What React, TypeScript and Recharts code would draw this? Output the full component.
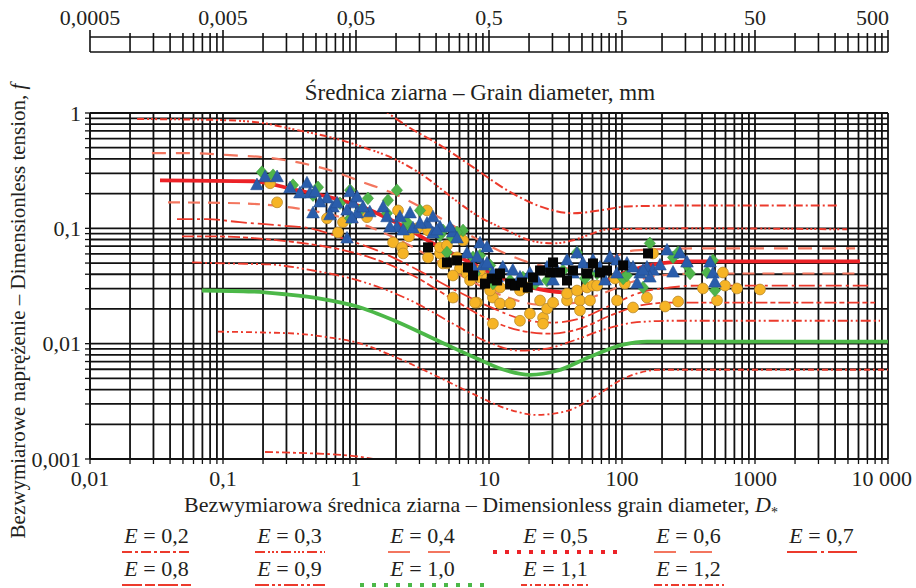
import React from 'react';
import { ComposedChart, LineChart, Line, Scatter, XAxis, YAxis, CartesianGrid, Legend } from 'recharts';

const SERIF = "'Liberation Serif', 'Times New Roman', serif";
const INK = '#231f20';
const GRID = '#111111';
const RED = '#ec3a2c';
const SALMON = '#f3765f';
const GREEN = '#4cb848';

// axis decades, minor ticks are 2..9 times each decade
const D_DECADES = [0.01, 0.1, 1, 10, 100, 1000, 10000];
const F_DECADES = [0.001, 0.01, 0.1, 1];
const MM_DECADES = [0.0005, 0.005, 0.05, 0.5, 5, 50, 500];
const STEPS = [1, 2, 3, 4, 5, 6, 7, 8, 9];

// curves: [D*, f]
const E_02 = [[1.55, 1.1], [2.55, 0.741], [4.28, 0.527], [7.58, 0.339], [13.7, 0.214], [24.2, 0.155], [42.8, 0.135], [68.3, 0.143], [109, 0.155], [386, 0.158], [4140, 0.158]];
const E_03 = [[0.0226, 0.887], [0.0949, 0.869], [0.2, 0.818], [0.36, 0.711], [0.638, 0.618], [1.13, 0.506], [2.03, 0.39], [3.6, 0.261], [4.28, 0.223], [8.56, 0.125], [13.7, 0.096], [20.3, 0.0787], [30.3, 0.0741], [42.8, 0.0787], [60.5, 0.0905], [77.1, 0.098], [386, 0.1], [4920, 0.098]];
const E_04 = [[0.0292, 0.449], [0.0565, 0.449], [0.113, 0.431], [0.2, 0.414], [0.36, 0.375], [0.638, 0.319], [1.13, 0.251], [1.9, 0.201], [3.6, 0.138], [7.2, 0.0869], [14.4, 0.0582], [26.4, 0.0468], [44.4, 0.0449], [74.5, 0.0527], [125, 0.0644], [386, 0.067], [5650, 0.067]];
const E_05 = [[0.0336, 0.261], [0.168, 0.256], [0.36, 0.214], [0.638, 0.186], [1.13, 0.152], [2.14, 0.108], [3.79, 0.0741], [7.2, 0.0506], [13.2, 0.036], [24.2, 0.0295], [40.6, 0.0277], [68.3, 0.0332], [115, 0.0431], [193, 0.0496], [325, 0.0516], [6150, 0.0516]];
const E_06 = [[0.0386, 0.168], [0.134, 0.165], [0.238, 0.158], [0.36, 0.149], [0.638, 0.132], [1.13, 0.108], [2.14, 0.0787], [3.79, 0.0548], [7.2, 0.0353], [13.2, 0.0256], [24.2, 0.0218], [40.6, 0.0223], [68.3, 0.0267], [115, 0.0339], [193, 0.039], [386, 0.0406], [5950, 0.0406]];
const E_07 = [[0.0451, 0.12], [0.0759, 0.12], [0.134, 0.113], [0.268, 0.106], [0.451, 0.1], [0.798, 0.0818], [1.44, 0.0644], [2.68, 0.0458], [5.09, 0.0307], [9.66, 0.0214], [17.1, 0.0165], [28.8, 0.0152], [48.3, 0.0165], [81.3, 0.0214], [137, 0.0277], [230, 0.0307], [386, 0.0319], [7080, 0.0319]];
const E_08 = [[0.0492, 0.0851], [0.0901, 0.0851], [0.18, 0.0818], [0.36, 0.0755], [0.638, 0.0684], [1.27, 0.056], [2.68, 0.039], [5.09, 0.0251], [9.66, 0.0165], [17.1, 0.013], [28.8, 0.0122], [48.3, 0.0135], [81.3, 0.0175], [137, 0.0214], [230, 0.0227], [7980, 0.0227]];
const E_09 = [[0.0585, 0.0506], [0.113, 0.0496], [0.226, 0.0486], [0.475, 0.0431], [0.856, 0.0375], [1.51, 0.0307], [2.78, 0.0227], [5.36, 0.0149], [9.66, 0.0104], [17.1, 0.00869], [27.3, 0.00906], [42.8, 0.0106], [77.1, 0.0135], [121, 0.0152], [230, 0.0158], [8710, 0.0158]];
const E_10 = [[0.0695, 0.0289], [0.168, 0.0283], [0.303, 0.0267], [0.536, 0.0246], [1.02, 0.021], [2.03, 0.0155], [4.28, 0.0104], [7.58, 0.0077], [13.7, 0.00582], [20.3, 0.00537], [32.5, 0.00582], [57.5, 0.0077], [102, 0.0098], [154, 0.0104], [10000, 0.0104]];
const E_11 = [[0.0917, 0.0127], [0.2, 0.0125], [0.36, 0.0122], [0.638, 0.0113], [1.02, 0.0102], [2.03, 0.00755], [4.28, 0.00506], [7.58, 0.00367], [13.7, 0.00272], [23, 0.00241], [38.6, 0.00261], [60.5, 0.00339], [102, 0.00496], [193, 0.00594], [10000, 0.00594]];
const E_12 = [[0.207, 0.00115], [0.36, 0.00113], [0.638, 0.0011], [1.34, 0.001], [2.14, 0.00079]];

// measured points: [D*, f]
const YELLOW = [[0.226, 0.246], [0.255, 0.168], [0.605, 0.122], [0.798, 0.113], [0.732, 0.0923], [1.21, 0.125], [2.07, 0.143], [1.9, 0.0755], [2.22, 0.0684], [2.26, 0.0606], [2.88, 0.1], [3.42, 0.143], [3.48, 0.096], [6.05, 0.0905], [6.38, 0.0787], [4.28, 0.0606], [4.83, 0.0496], [6.05, 0.0449], [6.83, 0.0406], [5.36, 0.0251], [10.7, 0.0353], [10.7, 0.0149], [4.28, 0.0684], [3.48, 0.056], [4.83, 0.0711], [5.75, 0.056], [8.56, 0.0375], [4.51, 0.0496], [5.36, 0.039], [7.2, 0.0353], [8.56, 0.0431], [9.66, 0.0367], [10.7, 0.0251], [8.13, 0.0227], [12.1, 0.0223], [14.4, 0.0223], [17.1, 0.0158], [20.3, 0.0182], [25.5, 0.0168], [25.5, 0.0149], [27.3, 0.0201], [30.3, 0.0227], [24.2, 0.0237], [38.6, 0.0237], [48.3, 0.0237], [57.5, 0.0237], [48.3, 0.0194], [38.6, 0.0272], [45.9, 0.0289], [54.6, 0.0307], [60.5, 0.0319], [91.7, 0.0237], [121, 0.0206], [154, 0.0251], [211, 0.021], [264, 0.0232], [88.6, 0.0367], [171, 0.0606], [10.2, 0.0289], [17.1, 0.0289], [19.3, 0.0307], [12.1, 0.0307], [7.85, 0.0227], [64.9, 0.0319], [406, 0.0301], [518, 0.0237], [595, 0.0319], [732, 0.0301], [574, 0.0414], [105, 0.0332], [1090, 0.0295], [2.5, 0.0851]];
const GREENPTS = [[0.196, 0.307], [0.238, 0.289], [0.336, 0.237], [0.475, 0.194], [0.758, 0.165], [1.07, 0.143], [1.23, 0.182], [1.71, 0.135], [3.03, 0.143], [4.28, 0.0869], [6.38, 0.096], [2.55, 0.102], [7.58, 0.056], [0.518, 0.227], [0.902, 0.214], [2.42, 0.113], [0.902, 0.122], [2.03, 0.214], [4.51, 0.096], [5.27, 0.0835], [8.56, 0.0582], [7.85, 0.0406], [10.7, 0.0332], [4.83, 0.0618], [5.75, 0.0923], [10.2, 0.0477], [18, 0.0375], [27.3, 0.0353], [36, 0.0431], [45.9, 0.0618], [64.9, 0.0406], [102, 0.0367], [144, 0.0307], [162, 0.0741], [242, 0.056], [308, 0.0477], [325, 0.0406], [436, 0.0414], [483, 0.0527], [500, 0.029], [264, 0.0618], [109, 0.039], [1.74, 0.175], [14.4, 0.0353], [22.2, 0.0332], [52.7, 0.0367]];
const BLUE = [[0.18, 0.237], [0.207, 0.278], [0.255, 0.278], [0.319, 0.223], [0.428, 0.246], [0.451, 0.201], [0.605, 0.182], [0.671, 0.152], [0.902, 0.206], [0.949, 0.165], [0.856, 0.143], [1.02, 0.135], [1.27, 0.138], [1.6, 0.152], [1.71, 0.125], [2.14, 0.125], [2.55, 0.135], [2.68, 0.1], [0.856, 0.0818], [4.28, 0.102], [5.36, 0.0923], [8.56, 0.0741], [9.01, 0.0477], [10.7, 0.0406], [3.42, 0.11], [3.79, 0.125], [2.03, 0.102], [0.379, 0.201], [0.536, 0.168], [0.72, 0.165], [1.02, 0.186], [0.933, 0.122], [1.8, 0.102], [0.492, 0.206], [0.638, 0.13], [1.13, 0.152], [0.475, 0.135], [2.26, 0.096], [3.03, 0.11], [3.79, 0.0905], [5.75, 0.0818], [9.66, 0.0496], [6.83, 0.0606], [7.58, 0.0458], [11.5, 0.0375], [9.66, 0.0684], [4.06, 0.096], [5.09, 0.102], [8.13, 0.056], [15.1, 0.0431], [17.1, 0.0375], [20.3, 0.0406], [23, 0.0353], [27.3, 0.0458], [32.5, 0.0431], [38.6, 0.0527], [45.9, 0.0606], [50.9, 0.0496], [60.5, 0.0527], [68.3, 0.0458], [81.3, 0.056], [91.7, 0.0406], [109, 0.0496], [121, 0.0458], [137, 0.0406], [154, 0.0458], [171, 0.0431], [193, 0.0477], [218, 0.0644], [242, 0.0414], [273, 0.0606], [308, 0.0506], [12.7, 0.0458], [30.3, 0.0353], [42.8, 0.0406], [74.5, 0.0353], [130, 0.0332], [162, 0.0375], [459, 0.0506], [483, 0.0406], [500, 0.0339], [91.7, 0.0527], [144, 0.0431]];
const BLACK = [[3.48, 0.0684], [4.83, 0.0506], [5.75, 0.0527], [6.95, 0.0458], [7.58, 0.039], [10.5, 0.0367], [11.5, 0.0353], [12.1, 0.0406], [14.4, 0.0332], [19.6, 0.0307], [21.4, 0.0375], [30.3, 0.0506], [28.8, 0.0414], [34.2, 0.0414], [38.6, 0.0353], [42.8, 0.0431], [54.6, 0.0406], [60.5, 0.0496], [77.1, 0.0431], [102, 0.0477], [157, 0.0606], [68.3, 0.0414], [9.33, 0.0332], [15.7, 0.0319], [17.7, 0.0339], [24.2, 0.0431]];

const toPts = (rows: number[][]) => rows.map(([D, f]) => ({ D, f }));

const CURVES = [
  { label: '0,2', data: E_02 },
  { label: '0,3', data: E_03 },
  { label: '0,4', data: E_04 },
  { label: '0,5', data: E_05 },
  { label: '0,6', data: E_06 },
  { label: '0,7', data: E_07 },
  { label: '0,8', data: E_08 },
  { label: '0,9', data: E_09 },
  { label: '1,0', data: E_10 },
  { label: '1,1', data: E_11 },
  { label: '1,2', data: E_12 },
];

type Style = { stroke: string; width: number; dash?: string; legendDash?: string; legendWidth?: number; legendLen?: number };
const STYLES: Record<string, Style> = {
  '0,2': { stroke: RED, width: 2, dash: '9 3 2 3', legendDash: '10 3 3 3' },
  '0,3': { stroke: RED, width: 2, dash: '7 3 2 2 2 2 2 3', legendDash: '10 3 2 2 2 2 2 3' },
  '0,4': { stroke: SALMON, width: 2.2, dash: '14 10', legendDash: '22 18' },
  '0,5': { stroke: '#ec2227', width: 3.8, legendDash: '4 8', legendWidth: 4, legendLen: 126 },
  '0,6': { stroke: SALMON, width: 2.2, dash: '12 8', legendDash: '22 14' },
  '0,7': { stroke: RED, width: 1.8, dash: '16 4 3 4', legendDash: '30 4 3 4' },
  '0,8': { stroke: RED, width: 1.8, dash: '12 3 5 3', legendDash: '20 3 10 3' },
  '0,9': { stroke: RED, width: 1.8, dash: '10 3 2 3 2 3', legendDash: '14 3 3 3 3 3' },
  '1,0': { stroke: GREEN, width: 3.8, legendDash: '4 8', legendWidth: 4, legendLen: 126 },
  '1,1': { stroke: RED, width: 1.8, dash: '6 3 2 3', legendDash: '6 3 2 3' },
  '1,2': { stroke: RED, width: 1.8, dash: '8 3 3 3', legendDash: '8 3 3 3' },
};

const logTicks = (decades: number[]) =>
  decades.flatMap((d, i) => (i === decades.length - 1 ? [d] : STEPS.map((s) => (s === 1 ? d : d * s))));

const fmt = (v: number) => (v === 10000 ? '10 000' : String(v).replace('.', ','));
const decadeLabel = (decades: number[]) => (v: number) => (decades.includes(v) ? fmt(v) : '');

const TICK_TEXT = { fontFamily: SERIF, fontSize: 22, fill: INK };

const Circle = (p: any) => <circle cx={p.cx} cy={p.cy} r={5.4} fill="#f6b425" stroke="#b98a2c" strokeWidth={0.8} />;
const Diamond = (p: any) => (
  <polygon points={`${p.cx},${p.cy - 6.3} ${p.cx + 5.6},${p.cy} ${p.cx},${p.cy + 6.3} ${p.cx - 5.6},${p.cy}`} fill="#4fb54b" stroke="#3c9a3c" strokeWidth={0.6} />
);
const Triangle = (p: any) => (
  <polygon points={`${p.cx},${p.cy - 7} ${p.cx + 6.3},${p.cy + 4.6} ${p.cx - 6.3},${p.cy + 4.6}`} fill="#2a5dab" stroke="#244f92" strokeWidth={0.6} />
);
const Square = (p: any) => <rect x={p.cx - 5} y={p.cy - 5} width={10} height={10} fill="#050505" />;

// bottom tick labels: only decades, last one kept inside the page
const DTick = ({ x, y, payload, index, visibleTicksCount }: any) => {
  const txt = decadeLabel(D_DECADES)(payload.value);
  if (!txt) return null;
  const last = index === visibleTicksCount - 1;
  return (
    <text x={last ? x + 24 : x} y={y} dy="0.71em" textAnchor={last ? 'end' : 'middle'} {...TICK_TEXT}>
      {txt}
    </text>
  );
};

const XTitle = ({ viewBox }: any) => (
  <text x={viewBox.x + viewBox.width / 2 - 8} y={viewBox.y + 53} textAnchor="middle" fontFamily={SERIF} fontSize={22} fill={INK}>
    Bezwymiarowa średnica ziarna – Dimensionless grain diameter, <tspan fontStyle="italic">D</tspan>
    <tspan fontSize={14} dy={5}>*</tspan>
  </text>
);

const YTitle = ({ viewBox }: any) => {
  const cx = viewBox.x - 12;
  const cy = viewBox.y + viewBox.height / 2 + 25;
  return (
    <text x={cx} y={cy} transform={`rotate(-90, ${cx}, ${cy})`} textAnchor="middle" dominantBaseline="central" fontFamily={SERIF} fontSize={21} fill={INK}>
      Bezwymiarowe naprężenie – Dimensionless tension, <tspan fontStyle="italic">f</tspan>
    </text>
  );
};

const MmTitle = ({ viewBox }: any) => (
  <text x={viewBox.x + viewBox.width / 2 - 9} y={viewBox.y + 48} textAnchor="middle" fontFamily={SERIF} fontSize={23} fill={INK}>
    Średnica ziarna – Grain diameter, mm
  </text>
);

const MmTick = ({ x, y, payload, index, visibleTicksCount }: any) => {
  const major = MM_DECADES.includes(payload.value);
  const last = index === visibleTicksCount - 1;
  return (
    <g>
      <line x1={x} x2={x} y1={y} y2={y - (major ? 7 : 4)} stroke={GRID} strokeWidth={1.6} />
      {major && (
        <text x={last ? x + 1 : x} y={y - 12} textAnchor={last ? 'end' : 'middle'} fontFamily={SERIF} fontSize={22} fill={INK}>
          {fmt(payload.value)}
        </text>
      )}
    </g>
  );
};

const CurveLegend = ({ payload }: any) => (
  <div style={{ display: 'grid', gridTemplateColumns: 'repeat(6, 133px)', fontFamily: SERIF, fontSize: 22, color: INK }}>
    {(payload || [])
      .map((entry: any) => String(entry.value ?? '').replace('E = ', ''))
      .filter((key: string) => STYLES[key])
      .map((key: string) => {
        const s = STYLES[key];
        const len = s.legendLen ?? 70;
        return (
          <div key={key} style={{ height: 33, textAlign: 'center' }}>
            <div style={{ lineHeight: '22px', height: 22 }}>
              <i>E</i> = {key}
            </div>
            <svg width={len} height={8} style={{ display: 'block', margin: '1px auto 0' }}>
              <line x1={0} x2={len} y1={4} y2={4} stroke={s.stroke} strokeWidth={s.legendWidth ?? 2} strokeDasharray={s.legendDash} />
            </svg>
          </div>
        );
      })}
  </div>
);

const MM_ROWS = MM_DECADES.map((mm) => ({ mm }));

const MmAxis = () => (
  <LineChart width={916} height={105} data={MM_ROWS} margin={{ top: 7, right: 28, bottom: 52, left: 90 }}>
    <CartesianGrid xAxisId="mm" horizontal={false} stroke={GRID} strokeWidth={1.6} />
    <XAxis
      xAxisId="mm"
      dataKey="mm"
      orientation="top"
      type="number"
      scale="log"
      domain={[0.0005, 500]}
      allowDataOverflow
      ticks={logTicks(MM_DECADES)}
      interval={0}
      height={30}
      tickSize={0}
      tickMargin={0}
      tick={<MmTick />}
      axisLine={{ stroke: GRID, strokeWidth: 1.6 }}
    />
    <XAxis
      xAxisId="mmb"
      dataKey="mm"
      orientation="bottom"
      type="number"
      scale="log"
      domain={[0.0005, 500]}
      allowDataOverflow
      tick={false}
      tickLine={false}
      height={1}
      axisLine={{ stroke: GRID, strokeWidth: 1.6 }}
      label={{ content: MmTitle }}
    />
    <YAxis hide type="number" domain={[0, 1]} />
  </LineChart>
);

const MainChart = () => (
  <ComposedChart width={916} height={588} margin={{ top: 113, right: 28, bottom: 99, left: 30 }}>
    <CartesianGrid stroke={GRID} strokeWidth={1.8} />
    <XAxis
      dataKey="D"
      type="number"
      scale="log"
      domain={[0.01, 10000]}
      allowDataOverflow
      ticks={logTicks(D_DECADES)}
      interval={0}
      height={30}
      tickSize={5}
      tickMargin={6}
      tick={<DTick />}
      axisLine={{ stroke: GRID, strokeWidth: 1.8 }}
      tickLine={{ stroke: GRID, strokeWidth: 1.3 }}
      label={{ content: XTitle }}
    />
    <YAxis
      dataKey="f"
      type="number"
      scale="log"
      domain={[0.001, 1]}
      allowDataOverflow
      ticks={logTicks(F_DECADES)}
      interval={0}
      tickFormatter={decadeLabel(F_DECADES)}
      width={60}
      tickSize={5}
      tickMargin={4}
      tick={TICK_TEXT}
      axisLine={{ stroke: GRID, strokeWidth: 1.8 }}
      tickLine={{ stroke: GRID, strokeWidth: 1.3 }}
      label={{ content: YTitle }}
    />
    {CURVES.map((c) => {
      const s = STYLES[c.label];
      return (
        <Line
          key={c.label}
          name={`E = ${c.label}`}
          data={toPts(c.data)}
          dataKey="f"
          type="monotone"
          stroke={s.stroke}
          strokeWidth={s.width}
          strokeDasharray={s.dash}
          dot={false}
          activeDot={false}
          isAnimationActive={false}
        />
      );
    })}
    <Scatter name="yellow" data={toPts(YELLOW)} shape={Circle} legendType="none" isAnimationActive={false} />
    <Scatter name="green" data={toPts(GREENPTS)} shape={Diamond} legendType="none" isAnimationActive={false} />
    <Scatter name="blue" data={toPts(BLUE)} shape={Triangle} legendType="none" isAnimationActive={false} />
    <Scatter name="black" data={toPts(BLACK)} shape={Square} legendType="none" isAnimationActive={false} />
    <Legend
      layout="vertical"
      verticalAlign="middle"
      align="center"
      content={<CurveLegend />}
      wrapperStyle={{ top: 525, left: 90, width: 798 }}
    />
  </ComposedChart>
);

export default function App() {
  return (
    <div style={{ position: 'absolute', left: 0, top: 0, width: 916, height: 588, background: '#fff', overflow: 'hidden' }}>
      <div style={{ position: 'absolute', left: 0, top: 0 }}>
        <MainChart />
      </div>
      <div style={{ position: 'absolute', left: 0, top: 0 }}>
        <MmAxis />
      </div>
    </div>
  );
}
